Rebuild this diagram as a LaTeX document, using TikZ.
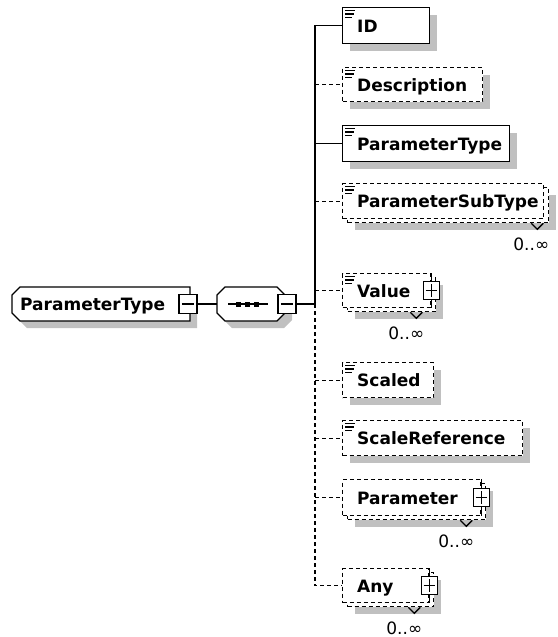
\documentclass[tikz,border=0pt]{standalone}
\usepackage{fontspec}
\setmainfont{DejaVu Sans}
\usetikzlibrary{shadows}
\definecolor{shadowgray}{RGB}{192,192,192}
\tikzset{
  boxline/.style={line width=1.4pt},
  solidbox/.style={rectangle, draw, boxline, fill=white, inner sep=0pt, anchor=north west},
  dashbox/.style={solidbox, line width=1.3pt, dash pattern=on 4pt off 3pt},
  boxshadow/.style={drop shadow={shadow xshift=7pt, shadow yshift=-7pt, fill=shadowgray, draw=none, opacity=1}},
  elname/.style={font=\bfseries\fontsize{17}{20}\selectfont, inner sep=0pt, anchor=base west},
  occurs/.style={font=\fontsize{17}{20}\selectfont, inner sep=0pt, anchor=base},
  wire/.style={line width=1.3pt},
  dashwire/.style={wire, dash pattern=on 4pt off 3pt},
  hidden/.style={inner sep=0pt, outer sep=0pt},
  togglebox/.style={rectangle, draw, wire, fill=white, inner sep=0pt, minimum width=#1, minimum height=18pt},
  togglebox/.default=16pt,
  simpleicon/.pic={\draw[line width=1.2pt] (0,0) -- (10,0) (0,3.3) -- (9,3.3) (0,6.6) -- (7,6.6);}
}
\begin{document}
\begin{tikzpicture}[x=1pt,y=-1pt]
\useasboundingbox (0,0) rectangle (557,637);

% ---- complex type node ----
\node[hidden, minimum width=178pt, minimum height=34pt] (root) at (101,304) {};
\fill[shadowgray, shift={(7,7)}] (20,287) -- (190,287) -- (190,321) -- (20,321) -- (12,313) -- (12,295) -- cycle;
\draw[boxline, fill=white] (20,287) -- (190,287) -- (190,321) -- (20,321) -- (12,313) -- (12,295) -- cycle;
\node[elname] (roottext) at (20,310.5) {ParameterType};
\node[togglebox=18pt, minimum height=19pt] (rootminus) at (188,304) {};
\draw[wire] ([xshift=3.5pt]rootminus.west) -- ([xshift=-3.5pt]rootminus.east);

% ---- sequence compositor ----
\node[hidden, minimum width=68pt, minimum height=34pt] (seq) at (251,304) {};
\fill[shadowgray, shift={(7,7)}] (225,287) -- (277,287) -- (285,295) -- (285,313) -- (277,321) -- (225,321) -- (217,313) -- (217,295) -- cycle;
\draw[boxline, fill=white] (225,287) -- (277,287) -- (285,295) -- (285,313) -- (277,321) -- (225,321) -- (217,313) -- (217,295) -- cycle;
\draw[wire] (228,304) -- (268,304);
\foreach \dx in {238,247,256} \fill (\dx-2.5,301.5) rectangle (\dx+2.5,306.5);
\node[togglebox=18pt, minimum height=19pt] (seqminus) at (287,304) {};
\draw[wire] ([xshift=3.5pt]seqminus.west) -- ([xshift=-3.5pt]seqminus.east);

\draw[wire] (rootminus.east) -- (seq.west);
\coordinate (tJ) at (315,304);
\draw[wire] (seqminus.east) -- (tJ);

% ---- child elements ----
% ID
\node[solidbox, boxshadow, minimum width=87pt, minimum height=36pt] (bID) at (342,7) {};
\pic at ([xshift=3pt,yshift=-3.7pt]bID.north west) {simpleicon};
\node[elname] at ([xshift=15pt,yshift=-6.5pt]bID.west) {ID};

% Description
\node[dashbox, boxshadow, minimum width=140pt, minimum height=34pt] (bDesc) at (342,67) {};
\pic at ([xshift=3pt,yshift=-3.7pt]bDesc.north west) {simpleicon};
\node[elname] at ([xshift=15pt,yshift=-6.5pt]bDesc.west) {Description};

% ParameterType
\node[solidbox, boxshadow, minimum width=167pt, minimum height=36pt] (bPType) at (342,125) {};
\pic at ([xshift=3pt,yshift=-3.7pt]bPType.north west) {simpleicon};
\node[elname] at ([xshift=15pt,yshift=-6.5pt]bPType.west) {ParameterType};

% ParameterSubType (0..unbounded)
\node[dashbox, boxshadow, minimum width=201pt, minimum height=35pt] (bSubBack) at (347,187) {};
\node[dashbox, minimum width=201pt, minimum height=35pt] (bSub) at (342,183) {};
\pic at ([xshift=3pt,yshift=-3.7pt]bSub.north west) {simpleicon};
\node[elname] at ([xshift=15pt,yshift=-6.5pt]bSub.west) {ParameterSubType};
\draw[wire] ([xshift=-18pt]bSubBack.south east) -- ++(6,6) -- ++(6,-6);
\node[occurs] at ([xshift=-18pt,yshift=-27pt]bSubBack.south east) {0..∞};

% Value (0..unbounded)
\node[dashbox, boxshadow, minimum width=88pt, minimum height=34pt] (bValBack) at (347,277) {};
\node[dashbox, minimum width=88pt, minimum height=34pt] (bVal) at (342,273) {};
\pic at ([xshift=3pt,yshift=-3.7pt]bVal.north west) {simpleicon};
\node[elname] at ([xshift=15pt,yshift=-6.5pt]bVal.west) {Value};
\draw[wire] (bVal.north east) -- (bVal.south east);
\node[togglebox] (pVal) at (bVal.east) {};
\draw[wire] ([xshift=3pt]pVal.west) -- ([xshift=-3pt]pVal.east) ([yshift=-3pt]pVal.north) -- ([yshift=3pt]pVal.south);
\draw[wire] ([xshift=-26pt]bValBack.south east) -- ++(6,6) -- ++(6,-6);
\node[occurs] at ([xshift=-30pt,yshift=-27pt]bValBack.south east) {0..∞};

% Scaled
\node[dashbox, boxshadow, minimum width=91pt, minimum height=35pt] (bScaled) at (342,362) {};
\pic at ([xshift=3pt,yshift=-3.7pt]bScaled.north west) {simpleicon};
\node[elname] at ([xshift=15pt,yshift=-6.5pt]bScaled.west) {Scaled};

% ScaleReference
\node[dashbox, boxshadow, minimum width=180pt, minimum height=35pt] (bSRef) at (342,420) {};
\pic at ([xshift=3pt,yshift=-3.7pt]bSRef.north west) {simpleicon};
\node[elname] at ([xshift=15pt,yshift=-6.5pt]bSRef.west) {ScaleReference};

% Parameter (0..unbounded)
\node[dashbox, boxshadow, minimum width=138pt, minimum height=36pt] (bParBack) at (347,483) {};
\node[dashbox, minimum width=138pt, minimum height=36pt] (bPar) at (342,479) {};
\node[elname] at ([xshift=15pt,yshift=-6.5pt]bPar.west) {Parameter};
\draw[wire] (bPar.north east) -- (bPar.south east);
\node[togglebox] (pPar) at (bPar.east) {};
\draw[wire] ([xshift=3pt]pPar.west) -- ([xshift=-3pt]pPar.east) ([yshift=-3pt]pPar.north) -- ([yshift=3pt]pPar.south);
\draw[wire] ([xshift=-26pt]bParBack.south east) -- ++(6,6) -- ++(6,-6);
\node[occurs] at ([xshift=-30pt,yshift=-27pt]bParBack.south east) {0..∞};

% Any (0..unbounded)
\node[dashbox, boxshadow, minimum width=86pt, minimum height=34pt] (bAnyBack) at (347,572) {};
\node[dashbox, minimum width=86pt, minimum height=34pt] (bAny) at (342,568) {};
\node[elname] at ([xshift=15pt,yshift=-6.5pt]bAny.west) {Any};
\draw[wire] (bAny.north east) -- (bAny.south east);
\node[togglebox] (pAny) at (bAny.east) {};
\draw[wire] ([xshift=3pt]pAny.west) -- ([xshift=-3pt]pAny.east) ([yshift=-3pt]pAny.north) -- ([yshift=3pt]pAny.south);
\draw[wire] ([xshift=-26pt]bAnyBack.south east) -- ++(6,6) -- ++(6,-6);
\node[occurs] at ([xshift=-30pt,yshift=-27pt]bAnyBack.south east) {0..∞};

% ---- connectors from the sequence trunk ----
\draw[wire] (bID.west) -- (bID.west -| tJ) -- (tJ);
\draw[wire] (bPType.west -| tJ) -- (bPType.west);
\draw[dashwire] (tJ) -- (bAny.west -| tJ) -- (bAny.west);
\draw[dashwire] (bDesc.west -| tJ) -- (bDesc.west);
\draw[dashwire] (bSub.west -| tJ) -- (bSub.west);
\draw[dashwire] (bVal.west -| tJ) -- (bVal.west);
\draw[dashwire] (bScaled.west -| tJ) -- (bScaled.west);
\draw[dashwire] (bSRef.west -| tJ) -- (bSRef.west);
\draw[dashwire] (bPar.west -| tJ) -- (bPar.west);
\end{tikzpicture}
\end{document}
